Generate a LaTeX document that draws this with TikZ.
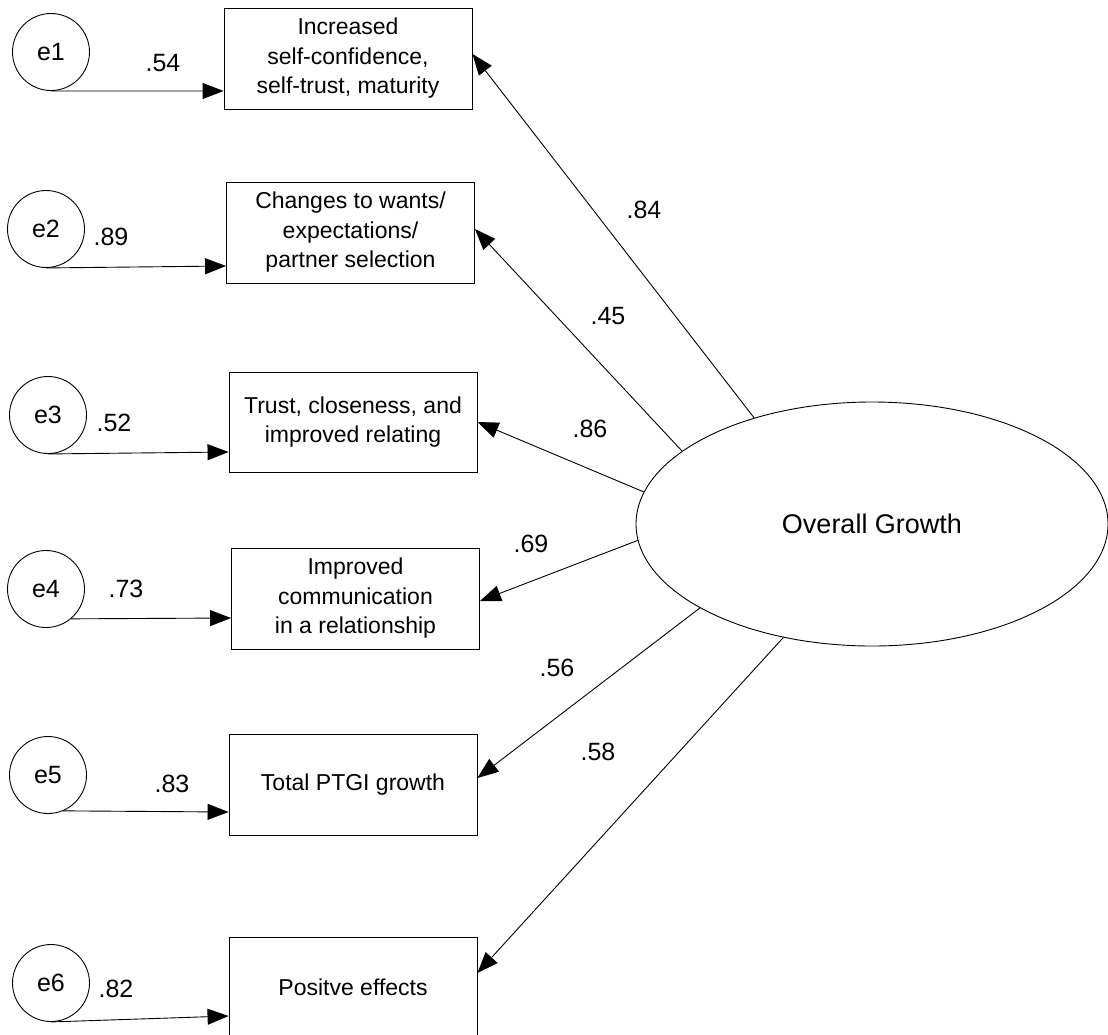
\documentclass[tikz,border=0pt]{standalone}
\usepackage{fontspec}
\setmainfont{Liberation Sans}
\usetikzlibrary{shapes.geometric,arrows.meta,calc}
\tikzset{
  obsbox/.style={draw, line width=0.9pt, rectangle, minimum width=248pt, minimum height=101pt, inner sep=0pt, align=center, font=\fontsize{23}{29.5}\selectfont},
  errc/.style={draw, line width=0.9pt, circle, minimum size=77pt, inner sep=0pt, font=\fontsize{25}{30}\selectfont},
  latent/.style={draw, line width=0.9pt, ellipse, minimum width=472pt, minimum height=244pt, inner sep=0pt, font=\fontsize{27}{32}\selectfont},
  coef/.style={font=\fontsize{25}{30}\selectfont, inner sep=0pt},
  patharrow/.style={line width=0.9pt, -{Triangle[length=21pt,width=16pt]}}
}
\begin{document}
\begin{tikzpicture}[x=1pt,y=-1pt]
\useasboundingbox (0,0) rectangle (1108,1034);
% error terms
\node[errc] (e1) at (51,52) {e1};
\node[errc] (e2) at (46,229) {e2};
\node[errc] (e3) at (48,415) {e3};
\node[errc] (e4) at (46,589) {e4};
\node[errc] (e5) at (48,775) {e5};
\node[errc] (e6) at (51,983) {e6};
% observed variables
\node[obsbox] (b1) at (348,58.5) {Increased\\self-confidence,\\self-trust, maturity};
\node[obsbox] (b2) at (350.5,232.5) {Changes to wants/\\expectations/\\partner selection};
\node[obsbox, minimum height=100pt] (b3) at (353,422) {Trust, closeness, and\\improved relating};
\node[obsbox] (b4) at (355.5,598.5) {Improved\\communication\\in a relationship};
\node[obsbox] (b5) at (353,784.5) {Total PTGI growth};
\node[obsbox] (b6) at (353,987.5) {Positve effects};
% latent
\node[latent] (g) at (872,524) {Overall Growth};
% error paths
\draw[patharrow] (e1.south) -- ($(b1.west)+(0,32.5)$);
\draw[patharrow] (e2.south) -- ($(b2.west)+(0,33.5)$);
\draw[patharrow] (e3.south) -- ($(b3.west)+(0,30)$);
\draw[patharrow] (e4.-50) -- ($(b4.west)+(0,19.5)$);
\draw[patharrow] (e5.-67) -- ($(b5.west)+(0,27.5)$);
\draw[patharrow] (e6.south) -- ($(b6.west)+(0,28.5)$);
% loadings
\draw[patharrow] (g.138.1) -- ($(b1.east)+(0,-4.5)$);
\draw[patharrow] (g.159.6) -- ($(b2.east)+(0,-3.5)$);
\draw[patharrow] (g.172.0) -- (b3.east);
\draw[patharrow] (g.184.6) -- ($(b4.east)+(0,2.5)$);
\draw[patharrow] (g.206.8) -- ($(b5.east)+(0,-6.5)$);
\draw[patharrow] (g.232.3) -- ($(b6.east)+(0,-14.5)$);
% coefficients
\node[coef] (c1) at (163,63) {.54};
\node[coef] (c2) at (111,237) {.89};
\node[coef] (c3) at (114,423) {.52};
\node[coef] (c4) at (126,589) {.73};
\node[coef] (c5) at (172,784) {.83};
\node[coef] (c6) at (116,989) {.82};
\node[coef] (l1) at (644,210) {.84};
\node[coef] (l2) at (608,316) {.45};
\node[coef] (l3) at (590,429) {.86};
\node[coef] (l4) at (531,544) {.69};
\node[coef] (l5) at (557,668) {.56};
\node[coef] (l6) at (598,752) {.58};
\end{tikzpicture}
\end{document}
